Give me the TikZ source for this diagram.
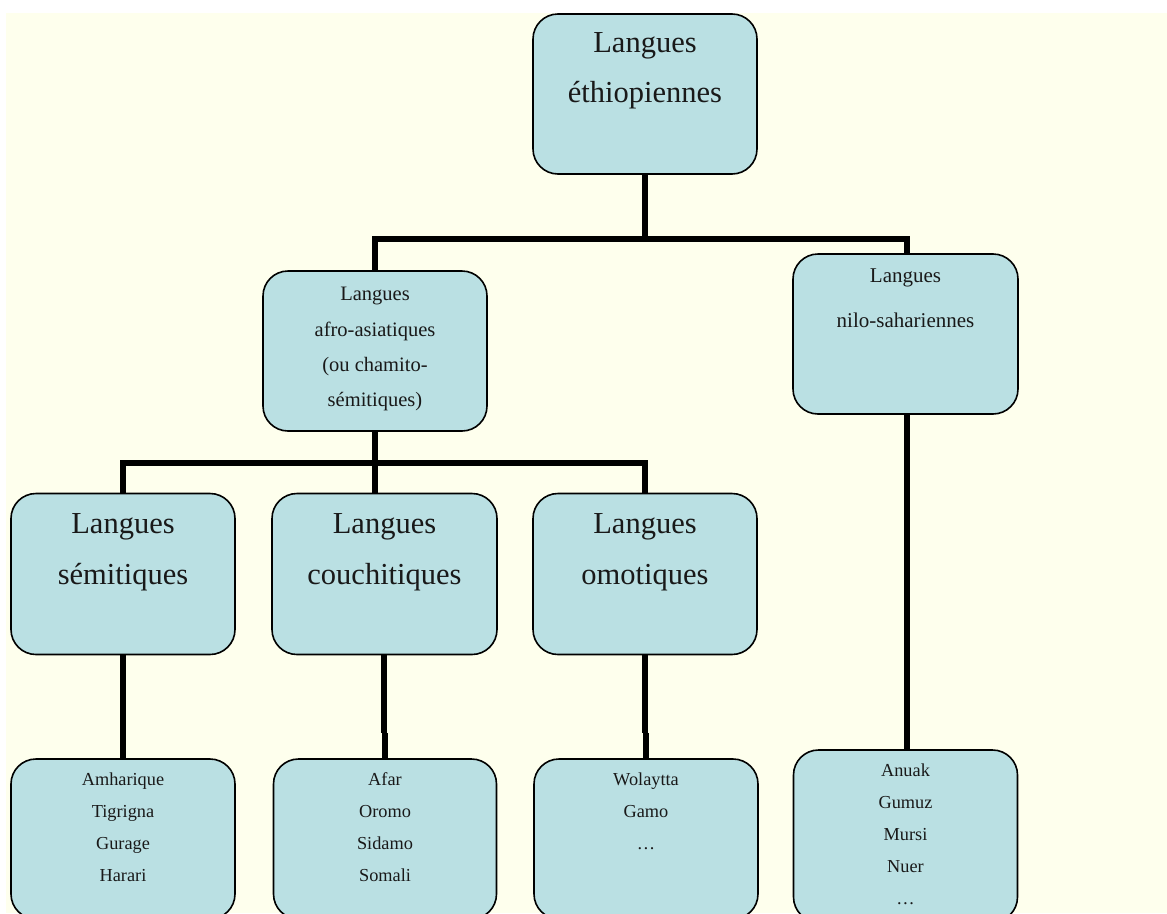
\documentclass[tikz,border=0pt]{standalone}
\usepackage{fontspec}
\setmainfont{Liberation Serif}
\definecolor{cream}{RGB}{254,255,237}
\definecolor{boxblue}{RGB}{186,224,227}
\tikzset{
  lbox/.style={draw=black, line width=1.6pt, fill=boxblue, rounded corners=25pt,
    inner sep=0pt, minimum width=224pt, minimum height=160pt},
  lbl/.style={inner sep=0pt, align=center, anchor=base, text=black!90},
  big/.style={font=\fontsize{30.5}{50.5}\selectfont},
  mid/.style={font=\fontsize{20.5}{35.3}\selectfont},
  midn/.style={font=\fontsize{21}{45}\selectfont},
  small/.style={font=\fontsize{18.3}{32.1}\selectfont},
  conn/.style={line width=6pt, black, line join=miter}
}
\begin{document}
\begin{tikzpicture}[x=1pt,y=-1pt]
\useasboundingbox (0,0) rectangle (1167,913);
\clip (0,0) rectangle (1167,913);
\fill[white] (0,0) rectangle (1167,913);
\fill[cream] (6,13) rectangle (1167,913);

% boxes
\node[lbox] (top)   at (645,94)    {};
\node[lbox] (afro)  at (375,351)   {};
\node[lbox, minimum width=225pt] (nilo)  at (905.5,334) {};
\node[lbox, minimum height=161pt] (sem)   at (123,574)   {};
\node[lbox, minimum width=225pt, minimum height=161pt] (cou)   at (384.5,574) {};
\node[lbox, minimum height=161pt] (omo)   at (645,574)   {};
\node[lbox] (semL)  at (123,839)   {};
\node[lbox, minimum width=223pt] (couL)  at (385,839)   {};
\node[lbox] (omoL)  at (646,839)   {};
\node[lbox, minimum width=224pt, minimum height=172pt] (niloL) at (905.5,836)   {};

% texts (anchor = baseline of the last line)
\node[lbl, big]  (ttop)  at (645,102.5)  {Langues\\éthiopiennes};
\node[lbl, mid]  (tafro) at (375,406.8) {Langues\\afro-asiatiques\\(ou chamito-\\sémitiques)};
\node[lbl, midn] (tnilo) at (905.5,327.5) {Langues\\nilo-sahariennes};
\node[lbl, big]  (tsem)  at (123,584) {Langues\\sémitiques};
\node[lbl, big]  (tcou)  at (384.5,584) {Langues\\couchitiques};
\node[lbl, big]  (tomo)  at (645,584) {Langues\\omotiques};
\node[lbl, small] (tsemL) at (123,881.5) {Amharique\\Tigrigna\\Gurage\\Harari};
\node[lbl, small] (tcouL) at (385,881.5) {Afar\\Oromo\\Sidamo\\Somali};
\node[lbl, small] (tomoL) at (646,849.4) {Wolaytta\\Gamo\\…};
\node[lbl, small] (tniloL) at (905.5,904.6) {Anuak\\Gumuz\\Mursi\\Nuer\\…};

% connectors
\draw[conn] (top.south) -- ++(0,64) coordinate (j1);
\draw[conn] (afro.north) |- (j1) -| ([xshift=1.5pt]nilo.north);
\draw[conn] (afro.south) -- ++(0,31) coordinate (j2);
\draw[conn] (sem.north) |- (j2) -| (omo.north);
\draw[conn] (j2) -- (j2 |- cou.north);
\draw[conn] (sem.south) -- (semL.north);
\draw[conn] ([xshift=-0.5pt]cou.south) -- ++(0,78) coordinate (k1);
\draw[conn] ([xshift=0.5pt]k1) -- ([xshift=0.5pt]k1 |- couL.north);
\draw[conn] ([xshift=-0.5pt]omo.south) -- ++(0,78) coordinate (k2);
\draw[conn] ([xshift=1pt]k2) -- ([xshift=1pt]k2 |- omoL.north);
\draw[conn] ([xshift=1.5pt]nilo.south) -- ([xshift=1.5pt]niloL.north);
\end{tikzpicture}
\end{document}
